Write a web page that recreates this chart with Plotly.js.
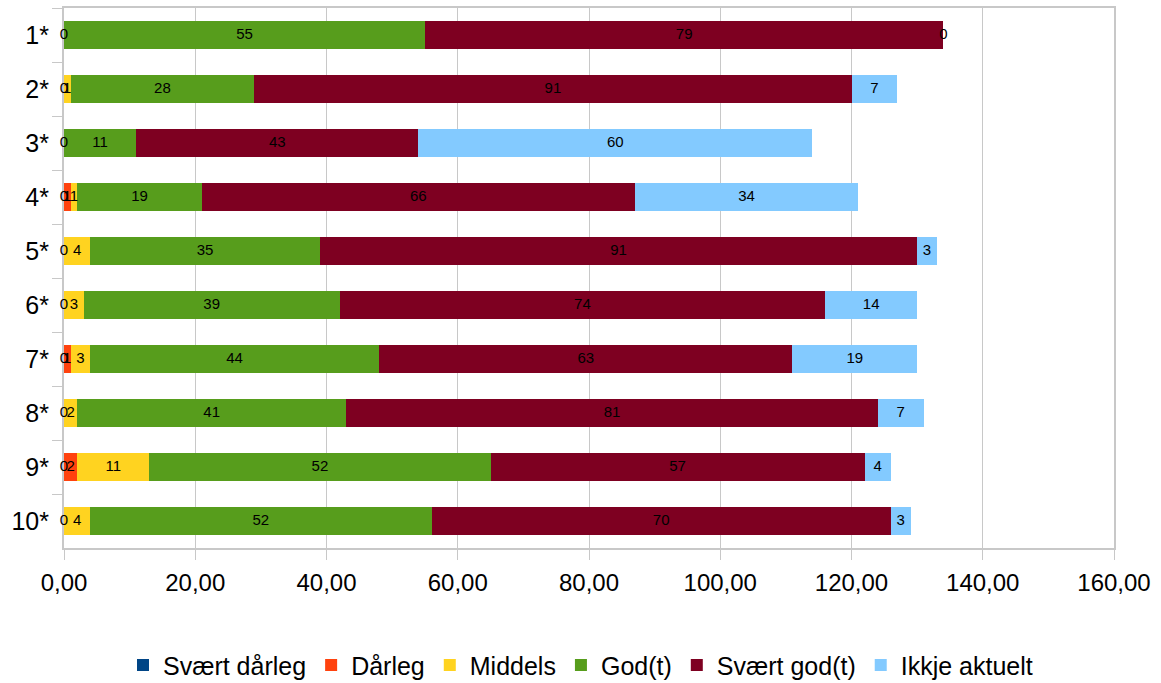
<!DOCTYPE html>
<html><head><meta charset="utf-8">
<script src="https://cdn.plot.ly/plotly-3.0.1.min.js"></script>
<style>html,body{margin:0;padding:0;background:#fff}#c{width:1161px;height:683px}</style>
</head><body><div id="c"></div>
<script>
var categories = ["1*","2*","3*","4*","5*","6*","7*","8*","9*","10*"];
var seriesNames = ["Svært dårleg","Dårleg","Middels","God(t)","Svært god(t)","Ikkje aktuelt"];
var svaertDarleg = [0,0,0,0,0,0,0,0,0,0];
var darleg       = [null,null,null,1,null,null,1,null,2,null];
var middels      = [null,1,null,1,4,3,3,2,11,4];
var god          = [55,28,11,19,35,39,44,41,52,52];
var svaertGod    = [79,91,43,66,91,74,63,81,57,70];
var ikkjeAktuelt = [0,7,60,34,3,14,19,7,4,3];
var colors = ["#004586","#ff420e","#ffd320","#579d1c","#7e0021","#83caff"];
var xTicks = [0,20,40,60,80,100,120,140,160];

var series = [svaertDarleg,darleg,middels,god,svaertGod,ikkjeAktuelt];
var traces = [];
var cum = categories.map(function(){return 0;});
var textTraces = [];
series.forEach(function(vals,i){
  traces.push({type:'bar',orientation:'h',name:seriesNames[i],y:categories,x:vals.map(function(v){return v===null?0:v;}),
    marker:{color:colors[i],line:{width:0}},hoverinfo:'skip'});
  var tx=[],ty=[],tt=[];
  vals.forEach(function(v,j){
    if(v!==null){tx.push(cum[j]+v/2);ty.push(categories[j]);tt.push(String(v));}
    cum[j]+= (v===null?0:v);
  });
  textTraces.push({type:'scatter',mode:'text',x:tx,y:ty,text:tt,showlegend:false,hoverinfo:'skip',cliponaxis:false,
    textfont:{family:'Liberation Sans, Arial, sans-serif',size:15,color:'#000'},textposition:'middle center'});
});
var data = traces.concat(textTraces);
var layout = {
  width:1161,height:683,
  margin:{l:64,r:47,t:8,b:135,autoexpand:false},
  barmode:'stack',bargap:0.48,
  separators:',.',
  paper_bgcolor:'#fff',plot_bgcolor:'#fff',
  font:{family:'Liberation Sans, Arial, sans-serif',color:'#000'},
  xaxis:{range:[0,160],tickvals:xTicks,tickformat:'.2f',showgrid:true,gridcolor:'#c8c8c8',gridwidth:1,
    zeroline:false,showline:true,linecolor:'#c8c8c8',linewidth:2,mirror:true,layer:'below traces',
    ticks:'outside',ticklen:10,tickcolor:'#c8c8c8',tickfont:{size:24},ticklabelstandoff:2,fixedrange:true},
  yaxis:{type:'category',categoryarray:categories,autorange:'reversed',showgrid:false,zeroline:false,
    showline:true,linecolor:'#c8c8c8',linewidth:2,mirror:true,layer:'below traces',
    ticks:'outside',tickson:'boundaries',ticklen:10,tickcolor:'#c8c8c8',tickfont:{size:25},ticklabelstandoff:8,fixedrange:true},
  showlegend:true,
  legend:{orientation:'h',x:0.5,xref:'container',xanchor:'center',y:0.026,yref:'container',yanchor:'middle',font:{size:25},traceorder:'normal',itemwidth:30},
};
Plotly.newPlot('c',data,layout,{displayModeBar:false,staticPlot:true});
</script></body></html>
